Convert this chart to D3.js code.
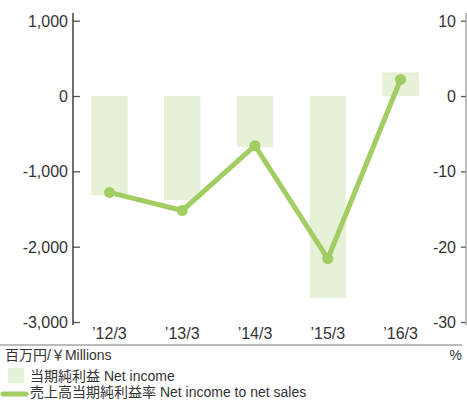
<!DOCTYPE html>
<html><head><meta charset="utf-8">
<script src="https://cdn.jsdelivr.net/npm/d3@7"></script>
<style>
html,body{margin:0;padding:0;background:#fff;}
text{font-family:"Liberation Sans","Noto Sans CJK JP",sans-serif;fill:#333;}
</style></head>
<body>
<svg id="c" width="467" height="401"></svg>
<script>
const categories = ["\u201912/3","\u201913/3","\u201914/3","\u201915/3","\u201916/3"];
const netIncome = [-1320, -1380, -680, -2680, 315];
const ratio = [-12.8, -15.2, -6.6, -21.6, 2.2];
const leftTicks = [1000, 0, -1000, -2000, -3000];
const rightTicks = [10, 0, -10, -20, -30];
const unitLeft = "百万円/￥Millions";
const unitRight = "%";
const legendBar = "当期純利益 Net income";
const legendLine = "売上高当期純利益率 Net income to net sales";

const barColor = "#e7f1d8", lineColor = "#a2cd63";
const svg = d3.select("#c");

const x = d3.scaleBand().domain(categories).range([73, 437]).paddingInner(0.5).paddingOuter(0.25);
const yL = d3.scaleLinear().domain([-3000, 1000]).range([322, 20.7]);
const yR = d3.scaleLinear().domain([-30, 10]).range([322, 20.7]);
const fmt = d => d3.format(",")(d).replace("\u2212", "-");

// bars
svg.append("g").selectAll("rect").data(netIncome).join("rect")
  .attr("x", (d,i) => x(categories[i]))
  .attr("width", x.bandwidth())
  .attr("y", d => Math.min(yL(d), yL(0)))
  .attr("height", d => Math.abs(yL(d) - yL(0)))
  .attr("fill", barColor);

// left axis
const gL = svg.append("g").attr("transform", "translate(73,0)")
  .call(d3.axisRight(yL).tickValues(leftTicks).tickSize(7).tickFormat(fmt));
gL.select(".domain").remove();
gL.selectAll(".tick line").attr("stroke", "#555").attr("stroke-width", 1.3);
gL.selectAll(".tick text").attr("x", -5).attr("text-anchor", "end").attr("font-size", 16).attr("dy", "0.35em");
svg.append("line").attr("x1", 73).attr("x2", 73).attr("y1", 13).attr("y2", 325).attr("stroke", "#222").attr("stroke-width", 1.3);

// right axis
const gR = svg.append("g").attr("transform", "translate(466,0)")
  .call(d3.axisLeft(yR).tickValues(rightTicks).tickSize(5).tickFormat(fmt));
gR.select(".domain").remove();
gR.selectAll(".tick line").attr("stroke", "#555").attr("stroke-width", 1.3);
gR.selectAll(".tick text").attr("x", -10).attr("font-size", 16).attr("dy", "0.35em");
svg.append("line").attr("x1", 466).attr("x2", 466).attr("y1", 13).attr("y2", 325).attr("stroke", "#999").attr("stroke-width", 1.3);

// x labels
svg.append("g").selectAll("text").data(categories).join("text")
  .attr("x", d => x(d) + x.bandwidth()/2)
  .attr("y", 339)
  .attr("text-anchor", "middle")
  .attr("font-size", 16)
  .text(d => d);

// bottom rule
svg.append("line").attr("x1", 0).attr("x2", 462).attr("y1", 345).attr("y2", 345).attr("stroke", "#bbb").attr("stroke-width", 2);

// line
const line = d3.line().x((d,i) => x(categories[i]) + x.bandwidth()/2).y(d => yR(d));
svg.append("path").datum(ratio).attr("d", line).attr("fill", "none")
  .attr("stroke", lineColor).attr("stroke-width", 5).attr("stroke-linejoin", "round");
svg.append("g").selectAll("circle").data(ratio).join("circle")
  .attr("cx", (d,i) => x(categories[i]) + x.bandwidth()/2)
  .attr("cy", d => yR(d)).attr("r", 5.5).attr("fill", lineColor);

// units
svg.append("text").attr("x", 5).attr("y", 360).attr("font-size", 14).text(unitLeft);
svg.append("text").attr("x", 462).attr("y", 360).attr("text-anchor", "end").attr("font-size", 14).text(unitRight);

// legend
svg.append("rect").attr("x", 8).attr("y", 368).attr("width", 16).attr("height", 15).attr("fill", barColor);
svg.append("text").attr("x", 30).attr("y", 381).attr("font-size", 14).text(legendBar);
svg.append("line").attr("x1", 3).attr("x2", 26).attr("y1", 394).attr("y2", 394)
  .attr("stroke", lineColor).attr("stroke-width", 5).attr("stroke-linecap", "round");
svg.append("text").attr("x", 30).attr("y", 397).attr("font-size", 14).text(legendLine);
</script>
</body></html>
